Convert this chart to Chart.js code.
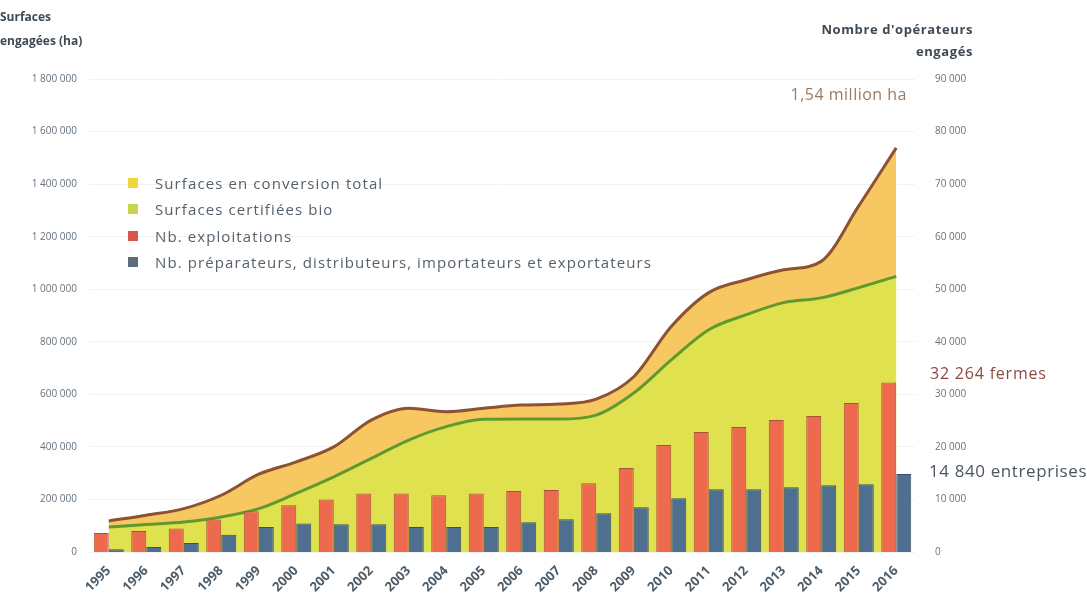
<!DOCTYPE html>
<html lang="fr">
<head>
<meta charset="UTF-8">
<title>Surfaces et opérateurs bio</title>
<script src="https://cdn.jsdelivr.net/npm/chart.js"></script>
<style>
  body { margin: 0; background: #fff; }
  #wrap { position: relative; width: 1087px; height: 600px; }
  #legend { position: absolute; left: 128px; top: 170px; font-family: 'Open Sans', sans-serif;
            font-size: 15px; letter-spacing: 1.1px; color: #56616b; }
  #legend div { height: 26.3px; display: flex; align-items: center; }
  #legend span.box { display: inline-block; width: 10px; height: 10px; margin-right: 17px; }
</style>
</head>
<body>
<div id="wrap">
  <canvas id="bioChart" width="1087" height="600"></canvas>
  <div id="legend"></div>
</div>

<script>
// Values
const years = ['1995','1996','1997','1998','1999','2000','2001','2002','2003','2004','2005',
               '2006','2007','2008','2009','2010','2011','2012','2013','2014','2015','2016'];

// surfaces engagées (ha): total (certifiées + en conversion) and certifiées bio
const surfTotal = [118000, 140000, 165000, 216000, 296000, 343000, 400000, 502000, 547000, 534000, 547000,
                   559000, 563000, 582000, 667000, 858000, 987000, 1036000, 1074000, 1106000, 1317000, 1538000];
const surfCertif = [95000, 105000, 114000, 133000, 165000, 223000, 286000, 356000, 426000, 477000, 505000,
                    506000, 506000, 521000, 605000, 731000, 846000, 903000, 949000, 967000, 1006000, 1049000];

// nombre d'opérateurs engagés
const nbExploit = [3620, 4000, 4460, 6180, 7760, 8900, 9990, 11130, 11130, 10800, 11130,
                   11600, 11800, 13100, 15960, 20350, 22830, 23780, 25120, 25880, 28360, 32264];
const nbPrepa = [500, 950, 1700, 3300, 4770, 5400, 5300, 5300, 4770, 4770, 4770,
                 5660, 6240, 7380, 8520, 10240, 11960, 11960, 12340, 12720, 12910, 14840];

const legendItems = [
    ['Surfaces en conversion total', '#f3d43b'],
    ['Surfaces certifiées bio', '#c9d54a'],
    ['Nb. exploitations', '#d9574a'],
    ['Nb. préparateurs, distributeurs, importateurs et exportateurs', '#5d6c7b']
];

// html legend
const lg = document.getElementById('legend');
legendItems.forEach(([txt, col]) => {
    const row = document.createElement('div');
    row.innerHTML = '<span class="box" style="background:' + col + '"></span>' + txt;
    lg.appendChild(row);
});

function fmt(v) {
    return String(v).replace(/\B(?=(\d{3})+(?!\d))/g, ' ');
}

Chart.defaults.font.family = "'Open Sans', sans-serif";

// extra texts: axis titles and end annotations
const textPlugin = {
    id: 'texts',
    afterDraw(chart) {
        const c = chart.ctx;
        const y1 = chart.scales.y1;
        const y = chart.scales.y;
        c.save();
        c.textBaseline = 'middle';
        c.fillStyle = '#3f4a54';
        c.font = "bold 12px 'Open Sans', sans-serif";
        c.textAlign = 'left';
        c.fillText('Surfaces', 0, 18);
        c.fillText('engagées (ha)', 0, 42);
        c.textAlign = 'right';
        c.font = "bold 13px 'Open Sans', sans-serif";
        c.letterSpacing = '0.6px';
        c.fillText("Nombre d'opérateurs", 973, 30);
        c.fillText('engagés', 973, 52);

        c.font = "16px 'Open Sans', sans-serif";
        c.letterSpacing = '0.5px';
        c.fillStyle = '#9b7b63';
        c.fillText('1,54 million ha', 907, y.getPixelForValue(surfTotal[surfTotal.length - 1]) - 52);

        c.textAlign = 'left';
        c.letterSpacing = '0.8px';
        c.fillStyle = '#8a4a42';
        c.fillText('32 264 fermes', 930, y1.getPixelForValue(nbExploit[nbExploit.length - 1]) - 8);
        c.fillStyle = '#4b5661';
        c.font = "17px 'Open Sans', sans-serif";
        c.letterSpacing = '0.6px';
        c.fillText('14 840 entreprises', 929, y1.getPixelForValue(nbPrepa[nbPrepa.length - 1]) - 2);
        c.restore();
    }
};

const ctx = document.getElementById('bioChart').getContext('2d');
const chart = new Chart(ctx, {
    type: 'bar',
    data: {
        labels: years,
        datasets: [
            {
                label: 'Nb. exploitations',
                data: nbExploit,
                yAxisID: 'y1',
                backgroundColor: '#ee6a4e',
                borderColor: '#a8503e',
                borderWidth: 1,
                barPercentage: 1.0,
                categoryPercentage: 0.8,
                order: 0
            },
            {
                label: 'Nb. préparateurs, distributeurs, importateurs et exportateurs',
                data: nbPrepa,
                yAxisID: 'y1',
                backgroundColor: '#4f6f91',
                borderColor: '#3a4f66',
                borderWidth: 1,
                barPercentage: 1.0,
                categoryPercentage: 0.8,
                order: 1
            },
            {
                type: 'line',
                label: 'Surfaces certifiées bio',
                data: surfCertif,
                yAxisID: 'y',
                borderColor: '#5f9a2e',
                backgroundColor: '#dfe24e',
                borderWidth: 3,
                pointRadius: 0,
                cubicInterpolationMode: 'monotone',
                fill: 'origin',
                order: 2
            },
            {
                type: 'line',
                label: 'Surfaces en conversion total',
                data: surfTotal,
                yAxisID: 'y',
                borderColor: '#8c5232',
                backgroundColor: '#f7c862',
                borderWidth: 3,
                pointRadius: 0,
                cubicInterpolationMode: 'monotone',
                fill: 'origin',
                order: 3
            }
        ]
    },
    options: {
        responsive: false,
        animation: false,
        layout: { padding: { top: 79, left: 0, right: 0, bottom: 0 } },
        plugins: {
            legend: { display: false },
            tooltip: { enabled: false }
        },
        scales: {
            x: {
                offset: true,
                grid: { display: false },
                border: { display: false },
                ticks: {
                    minRotation: 45,
                    maxRotation: 45,
                    padding: 3,
                    color: '#4e5c68',
                    font: { size: 13, weight: 'bold' }
                },
                afterFit(s) { s.height = 48; }
            },
            y: {
                position: 'left',
                min: 0,
                max: 1800000,
                ticks: {
                    stepSize: 200000,
                    padding: 13,
                    color: '#66727d',
                    font: { size: 10 },
                    callback: v => fmt(v)
                },
                grid: { color: 'rgba(0,0,0,0.05)', drawTicks: false },
                border: { display: false },
                afterFit(s) { s.width = 90; }
            },
            y1: {
                position: 'right',
                min: 0,
                max: 90000,
                ticks: {
                    stepSize: 10000,
                    padding: 20,
                    color: '#66727d',
                    font: { size: 10 },
                    callback: v => fmt(v)
                },
                grid: { display: false, drawTicks: false },
                border: { display: false },
                afterFit(s) { s.width = 172; }
            }
        }
    },
    plugins: [textPlugin]
});
</script>
</body>
</html>
